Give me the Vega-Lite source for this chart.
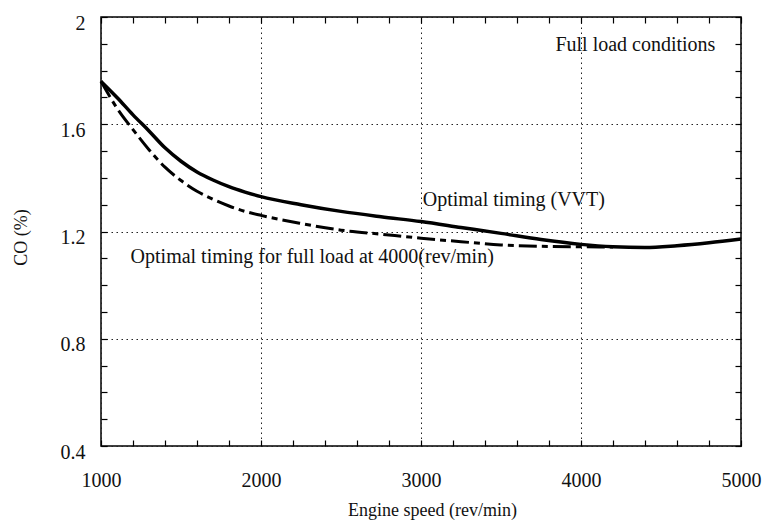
{
  "$schema": "https://vega.github.io/schema/vega-lite/v6.json",
  "width": 640,
  "height": 429,
  "autosize": "none",
  "padding": {"left": 101, "top": 17, "right": 23, "bottom": 80},
  "background": "white",
  "config": {
    "view": {"stroke": "black", "strokeWidth": 1.5},
    "font": "Liberation Serif",
    "axis": {
      "labelFont": "Liberation Serif",
      "titleFont": "Liberation Serif",
      "labelColor": "#111",
      "titleColor": "#111",
      "labelFontSize": 20,
      "titleFontSize": 18,
      "titleFontWeight": "normal",
      "domain": false,
      "tickColor": "black",
      "tickWidth": 1.2,
      "tickSize": -6,
      "gridColor": "#222",
      "gridDash": [1.5, 3.5],
      "gridWidth": 1
    }
  },
  "datasets": {
    "vvt": [
      {"speed": 1000, "co": 1.76}, {"speed": 1100, "co": 1.70}, {"speed": 1200, "co": 1.635},
      {"speed": 1300, "co": 1.575}, {"speed": 1400, "co": 1.512}, {"speed": 1500, "co": 1.462},
      {"speed": 1600, "co": 1.422}, {"speed": 1700, "co": 1.392}, {"speed": 1800, "co": 1.367},
      {"speed": 1900, "co": 1.347}, {"speed": 2000, "co": 1.33}, {"speed": 2250, "co": 1.30},
      {"speed": 2500, "co": 1.275}, {"speed": 2750, "co": 1.255}, {"speed": 3000, "co": 1.237},
      {"speed": 3250, "co": 1.215}, {"speed": 3500, "co": 1.193}, {"speed": 3750, "co": 1.17},
      {"speed": 4000, "co": 1.152}, {"speed": 4200, "co": 1.143}, {"speed": 4400, "co": 1.14},
      {"speed": 4600, "co": 1.147}, {"speed": 4800, "co": 1.158}, {"speed": 5000, "co": 1.172}
    ],
    "fixed": [
      {"speed": 1000, "co": 1.76}, {"speed": 1100, "co": 1.66}, {"speed": 1200, "co": 1.58},
      {"speed": 1300, "co": 1.505}, {"speed": 1400, "co": 1.44}, {"speed": 1500, "co": 1.39},
      {"speed": 1600, "co": 1.35}, {"speed": 1700, "co": 1.32}, {"speed": 1800, "co": 1.295},
      {"speed": 1900, "co": 1.275}, {"speed": 2000, "co": 1.26}, {"speed": 2250, "co": 1.23},
      {"speed": 2500, "co": 1.205}, {"speed": 2750, "co": 1.19}, {"speed": 3000, "co": 1.175},
      {"speed": 3250, "co": 1.162}, {"speed": 3500, "co": 1.15}, {"speed": 3750, "co": 1.145},
      {"speed": 4000, "co": 1.143}, {"speed": 4200, "co": 1.142}
    ],
    "notes": [
      {"label": "Full load conditions", "speed": 4340, "co": 1.895},
      {"label": "Optimal timing (VVT)", "speed": 3580, "co": 1.316},
      {"label": "Optimal timing for full load at 4000(rev/min)", "speed": 2320, "co": 1.105}
    ]
  },
  "resolve": {"axis": {"x": "independent", "y": "independent"}},
  "layer": [
    {
      "data": {"name": "vvt"},
      "mark": {"type": "line", "color": "black", "strokeWidth": 3.5, "interpolate": "monotone"},
      "encoding": {
        "x": {
          "field": "speed", "type": "quantitative",
          "scale": {"domain": [1000, 5000], "nice": false},
          "axis": {
            "orient": "bottom",
            "title": "Engine speed (rev/min)",
            "titlePadding": 11,
            "titleX": 331,
            "values": [1000,1200,1400,1600,1800,2000,2200,2400,2600,2800,3000,3200,3400,3600,3800,4000,4200,4400,4600,4800,5000],
            "labelExpr": "datum.value % 1000 == 0 ? datum.label : ''",
            "format": "d",
            "labelPadding": 30,
            "labelFlush": false,
            "labelOverlap": false,
            "grid": true,
            "gridOpacity": {"condition": {"test": "datum.value % 1000 == 0", "value": 1}, "value": 0}
          }
        },
        "y": {
          "field": "co", "type": "quantitative",
          "scale": {"domain": [0.4, 2], "nice": false, "zero": false},
          "axis": {
            "orient": "left",
            "title": "CO (%)",
            "titlePadding": 30,
            "titleY": 220,
            "values": [0.4,0.5,0.6,0.7,0.8,0.9,1.0,1.1,1.2,1.3,1.4,1.5,1.6,1.7,1.8,1.9,2.0],
            "format": ".1~f",
            "labelExpr": "abs(datum.value*2.5 - round(datum.value*2.5)) < 0.01 ? datum.label : ''",
            "labelPadding": 22,
            "labelOffset": 6,
            "labelFlush": false,
            "labelOverlap": false,
            "grid": true,
            "gridOpacity": {"condition": {"test": "abs(datum.value*2.5 - round(datum.value*2.5)) < 0.01", "value": 1}, "value": 0}
          }
        }
      }
    },
    {
      "data": {"name": "fixed"},
      "mark": {"type": "line", "color": "black", "strokeWidth": 3, "strokeDash": [18, 5, 6, 5], "interpolate": "monotone"},
      "encoding": {
        "x": {"field": "speed", "type": "quantitative", "axis": null},
        "y": {"field": "co", "type": "quantitative", "axis": null}
      }
    },
    {
      "data": {"name": "notes"},
      "mark": {"type": "text", "font": "Liberation Serif", "fontSize": 20, "color": "#111", "align": "center", "baseline": "middle"},
      "encoding": {
        "text": {"field": "label"},
        "x": {
          "field": "speed", "type": "quantitative",
          "axis": {
            "orient": "top", "title": null, "labels": false, "grid": false,
            "values": [1000,1200,1400,1600,1800,2000,2200,2400,2600,2800,3000,3200,3400,3600,3800,4000,4200,4400,4600,4800,5000]
          }
        },
        "y": {
          "field": "co", "type": "quantitative",
          "axis": {
            "orient": "right", "title": null, "labels": false, "grid": false,
            "values": [0.4,0.5,0.6,0.7,0.8,0.9,1.0,1.1,1.2,1.3,1.4,1.5,1.6,1.7,1.8,1.9,2.0]
          }
        }
      }
    }
  ]
}
